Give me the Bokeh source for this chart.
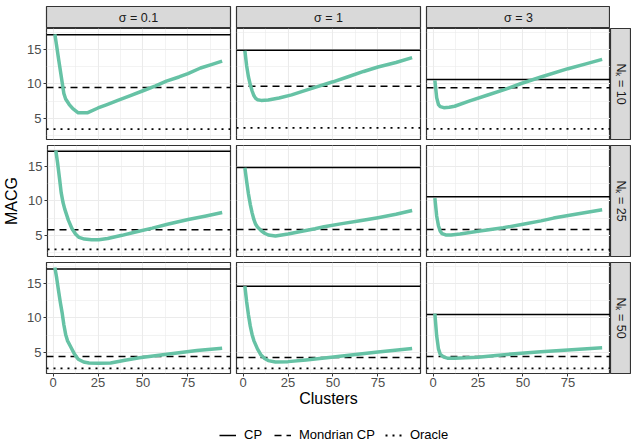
import math
from bokeh.plotting import figure
from bokeh.models import Range1d, FixedTicker, Legend, LegendItem, Spacer
from bokeh.layouts import column, row
from bokeh.embed import file_html
from bokeh.resources import INLINE
from bokeh.core.properties import value

# ---------------- data ----------------
sigma_labels = ["σ = 0.1", "σ = 1", "σ = 3"]
nk_labels = ["Nₖ = 10", "Nₖ = 25", "Nₖ = 50"]
x_ticks = [0, 25, 50, 75]
y_ticks = [5, 10, 15]

# N_k = 10
x_n10_s01 = [1, 2, 3, 4, 5, 6, 7, 9, 11, 14, 19, 25, 30, 36, 43, 50, 57, 63, 70, 75, 82, 88, 94]
y_n10_s01 = [17.2, 15.5, 13.7, 12.0, 10.3, 8.6, 7.8, 7.0, 6.4, 5.8, 5.8, 6.5, 7.0, 7.6, 8.3, 9.0, 9.7, 10.4, 11.0, 11.5, 12.3, 12.8, 13.3]
x_n10_s1 = [1, 2, 3, 4, 5, 6, 7, 8, 10, 14, 20, 27, 33, 40, 50, 58, 67, 75, 85, 94]
y_n10_s1 = [14.8, 12.6, 11.0, 9.9, 9.0, 8.3, 7.9, 7.7, 7.6, 7.65, 7.95, 8.4, 8.9, 9.5, 10.3, 11.0, 11.8, 12.45, 13.1, 13.8]
x_n10_s3 = [1, 2, 3, 4, 6, 9, 12, 20, 30, 40, 49, 60, 75, 85, 94]
y_n10_s3 = [10.5, 8.0, 7.0, 6.7, 6.55, 6.6, 6.75, 7.5, 8.35, 9.2, 10.05, 11.0, 12.2, 12.9, 13.55]

# N_k = 25
x_n25_s01 = [1, 2, 3, 4, 5, 6, 8, 10, 12, 14, 17, 21, 25, 30, 38, 45, 55, 64, 75, 85, 94]
y_n25_s01 = [17.3, 15.5, 13.4, 11.2, 9.8, 8.8, 7.2, 6.0, 5.2, 4.7, 4.45, 4.35, 4.37, 4.55, 5.0, 5.45, 6.05, 6.65, 7.3, 7.8, 8.3]
x_n25_s1 = [1, 2, 3, 4, 5, 6, 7, 8, 10, 12, 14, 18, 25, 32, 40, 45, 55, 65, 75, 85, 94]
y_n25_s1 = [14.8, 12.8, 11.0, 9.5, 8.3, 7.3, 6.6, 6.2, 5.7, 5.3, 5.05, 4.9, 5.2, 5.55, 5.95, 6.25, 6.7, 7.1, 7.55, 8.05, 8.6]
x_n25_s3 = [1, 2, 3, 4, 5, 7, 10, 15, 25, 39, 50, 60, 67, 80, 94]
y_n25_s3 = [10.4, 7.8, 6.4, 5.6, 5.25, 5.05, 5.05, 5.2, 5.6, 6.1, 6.6, 7.1, 7.5, 8.1, 8.7]

# N_k = 50
x_n50_s01 = [1, 2, 3, 4, 5, 6, 7, 8, 10, 12, 14, 17, 20, 25, 32, 40, 48, 60, 70, 80, 94]
y_n50_s01 = [17.3, 15.8, 14.0, 12.3, 10.8, 9.0, 7.6, 6.7, 5.7, 4.7, 4.0, 3.6, 3.45, 3.4, 3.45, 3.85, 4.2, 4.6, 4.95, 5.25, 5.6]
x_n50_s1 = [1, 2, 3, 4, 5, 6, 8, 10, 12, 14, 18, 25, 35, 49, 60, 75, 94]
y_n50_s1 = [14.6, 12.3, 10.4, 8.8, 7.6, 6.7, 5.5, 4.6, 4.1, 3.8, 3.6, 3.65, 3.9, 4.3, 4.6, 5.05, 5.55]
x_n50_s3 = [1, 2, 3, 4, 6, 8, 12, 18, 25, 35, 49, 60, 75, 94]
y_n50_s3 = [10.6, 7.4, 5.5, 4.7, 4.3, 4.15, 4.15, 4.2, 4.3, 4.55, 4.87, 5.1, 5.35, 5.65]

# horizontal reference levels: rows = N_k (10, 25, 50), cols = sigma (0.1, 1, 3)
cp_n10 = [17.12, 14.86, 10.63]
cp_n25 = [17.2, 14.84, 10.61]
cp_n50 = [17.1, 14.6, 10.5]
mondrian_n10 = [9.47, 9.66, 9.42]
mondrian_n25 = [5.81, 5.85, 5.85]
mondrian_n50 = [4.39, 4.25, 4.39]
oracle_n10 = [3.42, 3.62, 3.48]
oracle_n25 = [2.97, 2.92, 2.92]
oracle_n50 = [2.66, 2.66, 2.66]

legend_labels = ["CP", "Mondrian CP", "Oracle"]

curves = [
    [(x_n10_s01, y_n10_s01), (x_n10_s1, y_n10_s1), (x_n10_s3, y_n10_s3)],
    [(x_n25_s01, y_n25_s01), (x_n25_s1, y_n25_s1), (x_n25_s3, y_n25_s3)],
    [(x_n50_s01, y_n50_s01), (x_n50_s1, y_n50_s1), (x_n50_s3, y_n50_s3)],
]
cp_levels = [cp_n10, cp_n25, cp_n50]
mondrian_levels = [mondrian_n10, mondrian_n25, mondrian_n50]
oracle_levels = [oracle_n10, oracle_n25, oracle_n50]

# ---------------- scales ----------------
all_x = [v for r in curves for (xs, ys) in r for v in xs]
all_y = [v for r in curves for (xs, ys) in r for v in ys]
for lv in (cp_levels, mondrian_levels, oracle_levels):
    for r in lv:
        all_y += r
xmin, xmax = min(all_x), max(all_x)
ymin, ymax = min(all_y), max(all_y)
xpad = 0.05 * (xmax - xmin)
ypad = 0.05 * (ymax - ymin)
xr = Range1d(xmin - xpad, xmax + xpad)
yr = Range1d(ymin - ypad, ymax + ypad)

FONT = "Liberation Sans"
GREEN = "#66C2A5"
FW, FH = 184, 111
STRIP_W = 21
LEFT0 = 46
GAP = 3
BOTTOM_LAST = 40

DASH_M = "7 5"
DASH_O = "2 5"


def borders(r, c):
    left = LEFT0 if c == 0 else GAP
    right = GAP if c < 2 else 0
    bottom = 6 if r < 2 else BOTTOM_LAST
    return left, right, bottom


def make_panel(r, c):
    left, right, bottom = borders(r, c)
    p = figure(width=left + FW + right, height=FH + bottom, x_range=xr, y_range=yr,
               toolbar_location=None, output_backend="svg", title=None,
               x_axis_location="below" if r == 2 else None,
               y_axis_location="left" if c == 0 else None,
               min_border_left=left, min_border_right=right,
               min_border_top=0, min_border_bottom=bottom)
    p.background_fill_color = "white"
    p.border_fill_color = "white"
    p.outline_line_color = "#333333"
    p.outline_line_width = 1.2
    xt = FixedTicker(ticks=x_ticks, minor_ticks=[12.5, 37.5, 62.5, 87.5])
    yt = FixedTicker(ticks=y_ticks, minor_ticks=[2.5, 7.5, 12.5, 17.5])
    for g, t in ((p.xgrid, xt), (p.ygrid, yt)):
        g.ticker = t
        g.grid_line_color = "#EBEBEB"
        g.grid_line_width = 1.1
        g.minor_grid_line_color = "#EBEBEB"
        g.minor_grid_line_width = 0.6
    for ax, t in ((p.xaxis, xt), (p.yaxis, yt)):
        ax.ticker = t
        ax.axis_line_color = None
        ax.major_tick_line_color = "#333333"
        ax.major_tick_line_width = 1
        ax.major_tick_out = 3
        ax.major_tick_in = 0
        ax.minor_tick_line_color = None
        ax.major_label_text_font = FONT
        ax.major_label_text_font_size = "13px"
        ax.major_label_text_color = "#4D4D4D"
        ax.axis_label_text_font = FONT
        ax.axis_label_text_font_size = "16px"
        ax.axis_label_text_font_style = "normal"
        ax.axis_label_text_color = "black"
    p.yaxis.major_label_standoff = 1
    p.yaxis.axis_label_standoff = 5
    p.xaxis.major_label_standoff = 0
    p.xaxis.axis_label_standoff = 0
    if r == 1 and c == 0:
        p.yaxis.axis_label = "MACG"
    if r == 2 and c == 1:
        p.xaxis.axis_label = "Clusters"

    x0, x1 = xr.start, xr.end
    p.line([x0, x1], [cp_levels[r][c]] * 2, line_color="black", line_width=1.5)
    p.line([x0, x1], [mondrian_levels[r][c]] * 2, line_color="black", line_width=1.5,
           line_dash=DASH_M)
    p.line([x0, x1], [oracle_levels[r][c]] * 2, line_color="black", line_width=1.8,
           line_dash=DASH_O)
    xs, ys = curves[r][c]
    p.line(xs, ys, line_color=GREEN, line_width=3.5, line_join="round")
    return p


def strip_fig(width, height, left, right, top, bottom, label, angle):
    s = figure(width=width, height=height, x_range=Range1d(0, 1), y_range=Range1d(0, 1),
               toolbar_location=None, output_backend="svg", title=None,
               x_axis_location=None, y_axis_location=None,
               min_border_left=left, min_border_right=right,
               min_border_top=top, min_border_bottom=bottom)
    s.xgrid.visible = False
    s.ygrid.visible = False
    s.background_fill_color = "#D9D9D9"
    s.border_fill_color = "white"
    s.outline_line_color = "#333333"
    s.outline_line_width = 1.2
    s.text(x=[0.5], y=[0.5], text=[label], angle=angle, text_align="center",
           text_baseline="middle", text_font=value(FONT), text_font_size="12.5px",
           text_color="#1A1A1A")
    return s


top_strips = []
for c in range(3):
    left, right, _ = borders(0, c)
    top_strips.append(strip_fig(left + FW + right, 28, left, right, 6, 0,
                                sigma_labels[c], 0))
top_row = row(*top_strips, Spacer(width=STRIP_W, height=28))

rows = [top_row]
for r in range(3):
    panels = [make_panel(r, c) for c in range(3)]
    _, _, bottom = borders(r, 2)
    rs = strip_fig(STRIP_W, FH + bottom, 0, 0, 0, bottom, nk_labels[r], -math.pi / 2)
    rows.append(row(*panels, rs))

# legend (its renderers sit outside the visible range of this small figure)
lf = figure(width=631, height=28, x_range=Range1d(0, 1), y_range=Range1d(0, 1),
            toolbar_location=None, output_backend="svg", title=None,
            x_axis_location=None, y_axis_location=None,
            min_border_left=0, min_border_right=0, min_border_top=0, min_border_bottom=0)
lf.xgrid.visible = False
lf.ygrid.visible = False
lf.outline_line_color = None
lf.background_fill_color = "white"
r_cp = lf.line(x=[-5, -4], y=[-5, -5], line_color="black", line_width=1.5)
r_mo = lf.line(x=[-5, -4], y=[-5, -5], line_color="black", line_width=1.5, line_dash=DASH_M)
r_or = lf.line(x=[-5, -4], y=[-5, -5], line_color="black", line_width=1.8, line_dash=DASH_O)
legend = Legend(items=[LegendItem(label=legend_labels[0], renderers=[r_cp]),
                       LegendItem(label=legend_labels[1], renderers=[r_mo]),
                       LegendItem(label=legend_labels[2], renderers=[r_or])],
                orientation="horizontal", location=(219, -1),
                border_line_color=None, background_fill_alpha=0,
                padding=0, margin=0, spacing=10, glyph_width=17, glyph_height=12,
                label_height=12, label_standoff=8,
                label_text_font=FONT, label_text_font_size="13px",
                label_text_color="black")
lf.add_layout(legend, "center")
rows.append(lf)

layout = column(*rows)
open("out.html", "w").write(file_html(layout, INLINE))
